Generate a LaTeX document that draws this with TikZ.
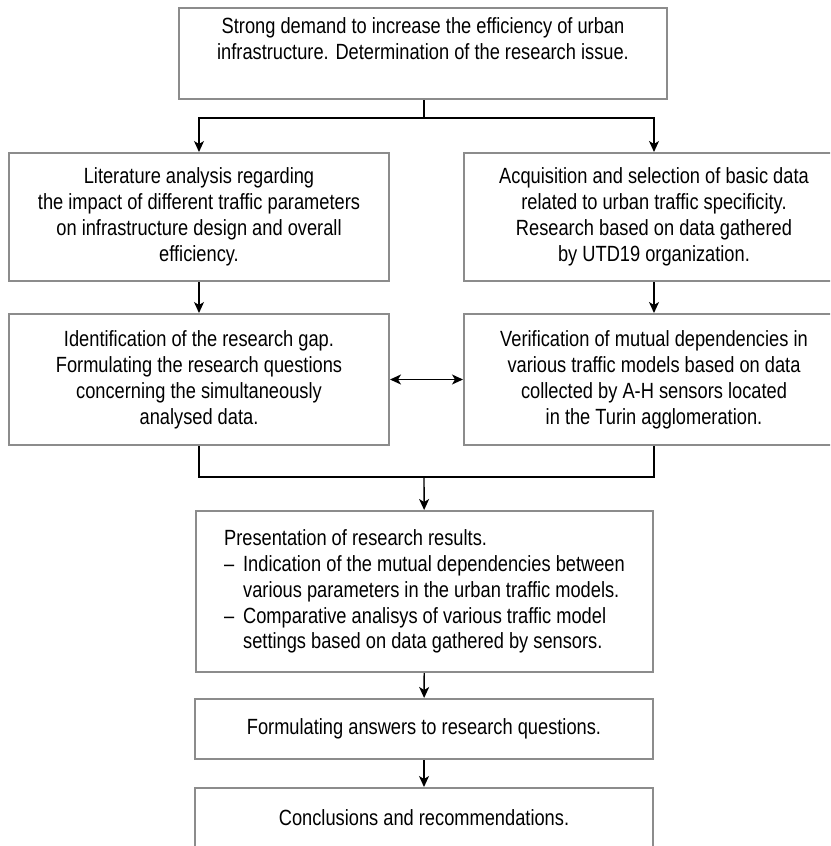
\documentclass[tikz,border=0pt]{standalone}
\usepackage{fontspec}
\setmainfont{Liberation Sans}[FakeStretch=0.83]
\usetikzlibrary{arrows.meta}
\definecolor{boxgray}{RGB}{140,140,140}
\tikzset{
  txt/.style={align=center,inner sep=0pt,font=\fontsize{22pt}{25.9pt}\selectfont},
  box/.style={txt,draw=boxgray,line width=2pt},
  wide/.style={box,minimum width=380pt,minimum height=128pt},
  line/.style={line width=1.4pt},
  link/.style={line,-{Stealth[length=11pt,width=10pt,inset=3pt]}}
}
\begin{document}
\begin{tikzpicture}[x=1pt,y=-1pt]
  \clip (0,0) rectangle (830,846);
  % boxes
  \node (demand) [box,minimum width=488pt,minimum height=91pt] at (423,53.5) {};
  \node (demandtext) [txt] at (423,39) {Strong demand to increase the efficiency of urban\\infrastructure. Determination of the research issue.};
  \node (lit) [wide] at (199,217) {Literature analysis regarding\\the impact of different traffic parameters\\on infrastructure design and overall\\efficiency.};
  \node (data) [wide] at (654,217) {Acquisition and selection of basic data\\related to urban traffic specificity.\\Research based on data gathered\\by UTD19 organization.};
  \node (gap) [wide,minimum height=131pt] at (199,379.5) {Identification of the research gap.\\Formulating the research questions\\concerning the simultaneously\\analysed data.};
  \node (verif) [wide,minimum height=131pt] at (654,379.5) {Verification of mutual dependencies in\\various traffic models based on data\\collected by A-H sensors located\\in the Turin agglomeration.};
  \node (results) [box,align=left,minimum width=457pt,minimum height=161pt] at (424.5,591.5) {Presentation of research results.\\
    \makebox[19pt][l]{--}Indication of the mutual dependencies between\\
    \hspace*{19pt}various parameters in the urban traffic models.\\
    \makebox[19pt][l]{--}Comparative analisys of various traffic model\\
    \hspace*{19pt}settings based on data gathered by sensors.};
  \node (answers) [box,minimum width=458pt,minimum height=60pt] at (424,729) {Formulating answers to research questions.};
  \node (concl) [box,minimum width=458pt,minimum height=60pt] at (424,818) {Conclusions and recommendations.};
  % connectors
  \coordinate (split) at (424,118);
  \coordinate (merge) at (424,477);
  \draw [line] (split |- demand.south) -- (split);
  \draw [link] (split) -| (lit.north);
  \draw [link] (split) -| (data.north);
  \draw [link] (lit) -- (gap);
  \draw [link] (data) -- (verif);
  \draw [line,{Stealth[length=11pt,width=10pt,inset=3pt]}-{Stealth[length=11pt,width=10pt,inset=3pt]}] (gap) -- (verif);
  \draw [line] (gap.south) |- (merge) -| (verif.south);
  \draw [link] (merge) -- (results);
  \draw [link] (results) -- (answers);
  \draw [link] (answers) -- (concl);
\end{tikzpicture}
\end{document}
